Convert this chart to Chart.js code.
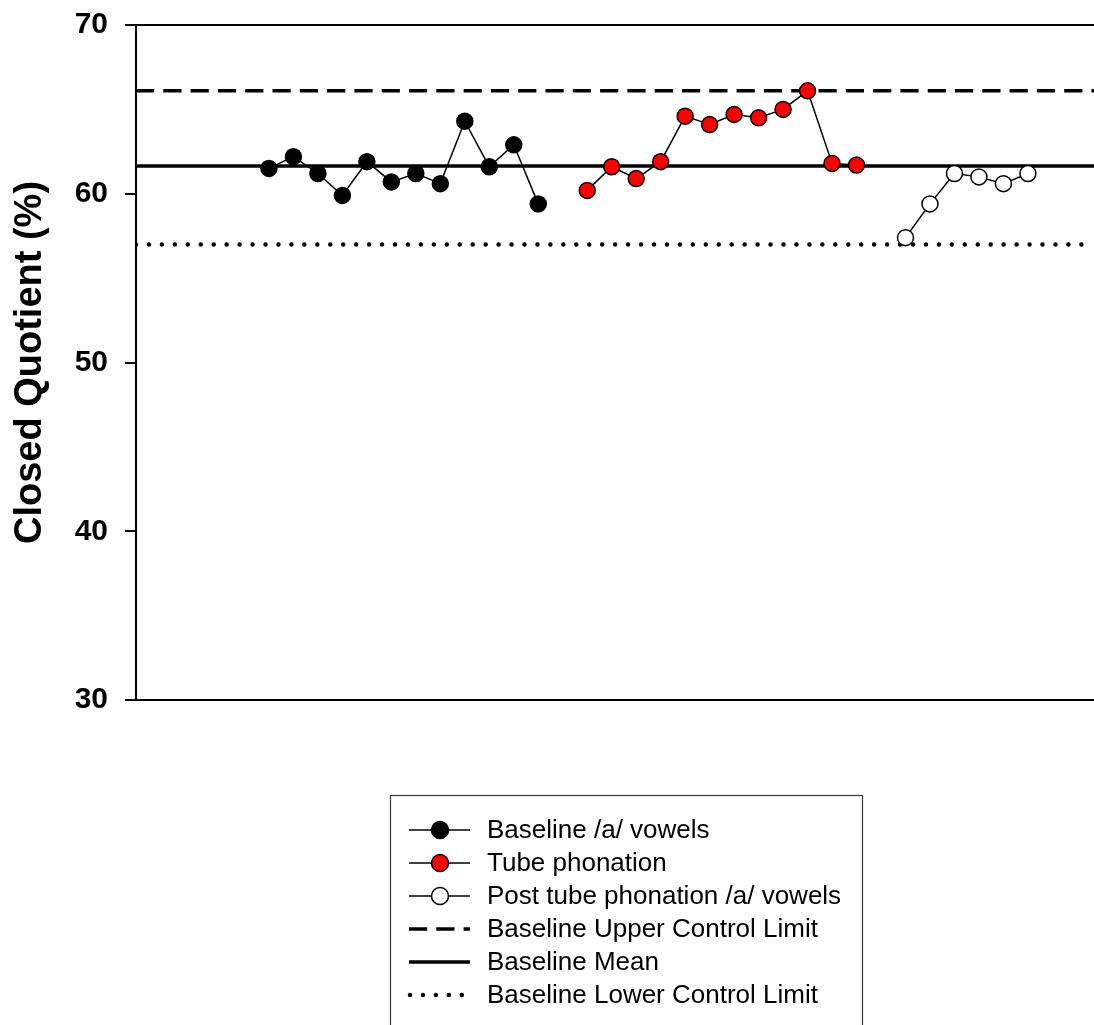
<!DOCTYPE html>
<html>
<head>
<meta charset="utf-8">
<script src="https://cdn.jsdelivr.net/npm/chart.js@4.4.1/dist/chart.umd.min.js"></script>
<style>
  html, body { margin: 0; padding: 0; background: #ffffff; }
  #wrap { position: relative; width: 1094px; height: 1025px; }
  canvas { display: block; }
</style>
</head>
<body>
<div id="wrap"><canvas id="cq" width="1094" height="1025"></canvas></div>
<script>
// Closed quotient (%) per session, three phases
const baselineSessions = [1, 2, 3, 4, 5, 6, 7, 8, 9, 10, 11, 12];
const baselineCQ = [61.5, 62.2, 61.2, 59.9, 61.9, 60.7, 61.2, 60.6, 64.3, 61.6, 62.9, 59.4];

const tubeSessions = [14, 15, 16, 17, 18, 19, 20, 21, 22, 23, 24, 25];
const tubeCQ = [60.2, 61.6, 60.9, 61.9, 64.6, 64.1, 64.7, 64.5, 65.0, 66.1, 61.8, 61.7];

const postSessions = [27, 28, 29, 30, 31, 32];
const postCQ = [57.4, 59.4, 61.2, 61.0, 60.6, 61.2];

// Control limits from the baseline phase
const upperControlLimit = 66.1;
const baselineMean = 61.65;
const lowerControlLimit = 57.0;

const yTicks = [30, 40, 50, 60, 70];

const seriesLabels = [
  'Baseline /a/ vowels',
  'Tube phonation',
  'Post tube phonation /a/ vowels',
  'Baseline Upper Control Limit',
  'Baseline Mean',
  'Baseline Lower Control Limit'
];

const FONT = "'Liberation Sans', Arial, Helvetica, sans-serif";
const X_MIN = -4.43, X_MAX = 34.7;

const toPoints = (xs, ys) => xs.map((x, i) => ({ x: x, y: ys[i] }));
const flatLine = (v) => [{ x: X_MIN, y: v }, { x: X_MAX, y: v }];

const phaseStyle = (fill) => ({
  borderColor: '#000000',
  borderWidth: 1.5,
  pointRadius: 8,
  pointBackgroundColor: fill,
  pointBorderColor: '#000000',
  pointBorderWidth: 1.5,
  showLine: true,
  tension: 0,
  order: 0
});

// Draws the boxed key beneath the plot from the datasets' own styles
const boxedLegend = {
  id: 'boxedLegend',
  afterDraw(chart) {
    const ctx = chart.ctx;
    const box = { left: 390.5, top: 795.5, width: 472, height: 260 };
    const rowTop = 830, rowStep = 33;
    const symLeft = 409, symRight = 470, symMid = 440, textX = 487;
    ctx.save();
    ctx.strokeStyle = '#3a3a3a';
    ctx.lineWidth = 1.2;
    ctx.strokeRect(box.left, box.top, box.width, box.height);
    chart.data.datasets.forEach((ds, i) => {
      const y = rowTop + i * rowStep;
      ctx.save();
      ctx.strokeStyle = ds.borderColor;
      ctx.lineWidth = ds.borderWidth;
      ctx.lineCap = ds.borderCapStyle || 'butt';
      ctx.setLineDash(ds.borderDash || []);
      ctx.beginPath();
      if (ds.borderDash && ds.borderDash[0] === 0) {
        ctx.moveTo(symLeft + 1, y);
        ctx.lineTo(symRight - 5, y);
      } else {
        ctx.moveTo(symLeft, y);
        ctx.lineTo(symRight, y);
      }
      ctx.stroke();
      ctx.setLineDash([]);
      if (ds.pointRadius > 0) {
        ctx.beginPath();
        ctx.arc(symMid, y, ds.pointRadius + 0.5, 0, Math.PI * 2);
        ctx.fillStyle = ds.pointBackgroundColor;
        ctx.fill();
        ctx.lineWidth = ds.pointBorderWidth;
        ctx.strokeStyle = ds.pointBorderColor;
        ctx.stroke();
      }
      ctx.restore();
      ctx.fillStyle = '#000000';
      ctx.font = '26px ' + FONT;
      ctx.textAlign = 'left';
      ctx.textBaseline = 'middle';
      ctx.fillText(ds.label, textX, y + 1);
    });
    ctx.restore();
  }
};

new Chart(document.getElementById('cq'), {
  type: 'scatter',
  data: {
    datasets: [
      Object.assign({ label: seriesLabels[0], data: toPoints(baselineSessions, baselineCQ) }, phaseStyle('#000000')),
      Object.assign({ label: seriesLabels[1], data: toPoints(tubeSessions, tubeCQ) }, phaseStyle('#ff0000')),
      Object.assign({ label: seriesLabels[2], data: toPoints(postSessions, postCQ) }, phaseStyle('#ffffff')),
      {
        label: seriesLabels[3], data: flatLine(upperControlLimit), showLine: true,
        borderColor: '#000000', borderWidth: 3.5, borderDash: [18.2, 9.1],
        pointRadius: 0, order: 1
      },
      {
        label: seriesLabels[4], data: flatLine(baselineMean), showLine: true,
        borderColor: '#000000', borderWidth: 3.5,
        pointRadius: 0, order: 1
      },
      {
        label: seriesLabels[5], data: flatLine(lowerControlLimit), showLine: true,
        borderColor: '#000000', borderWidth: 4.5, borderDash: [0, 12.95], borderCapStyle: 'round',
        pointRadius: 0, order: 1
      }
    ]
  },
  options: {
    responsive: false,
    animation: false,
    devicePixelRatio: 1,
    layout: { padding: 0, autoPadding: false },
    plugins: { legend: { display: false }, tooltip: { enabled: false } },
    scales: {
      x: {
        type: 'linear', position: 'bottom', min: X_MIN, max: X_MAX,
        ticks: { display: false }, grid: { display: false },
        border: { display: true, color: '#000000', width: 2 },
        afterFit(scale) { scale.height = 325; }
      },
      xTop: {
        type: 'linear', position: 'top', min: X_MIN, max: X_MAX,
        ticks: { display: false }, grid: { display: false },
        border: { display: true, color: '#000000', width: 2 },
        afterFit(scale) { scale.height = 25; }
      },
      y: {
        type: 'linear', position: 'left', min: 30, max: 70,
        afterBuildTicks(scale) { scale.ticks = yTicks.map(v => ({ value: v })); },
        ticks: {
          color: '#000000', padding: 17,
          font: { family: FONT, size: 30, weight: 'bold' }
        },
        grid: { drawOnChartArea: false, drawTicks: true, tickLength: 11, color: '#000000', lineWidth: 2 },
        border: { display: true, color: '#000000', width: 2 },
        title: {
          display: true, text: 'Closed Quotient (%)', color: '#000000',
          font: { family: FONT, size: 38, weight: 'bold' },
          padding: { top: 8, bottom: 0 }
        },
        afterFit(scale) {
          scale.width = 136;
          scale.paddingTop = 0;
          scale.paddingBottom = 0;
        }
      }
    }
  },
  plugins: [boxedLegend]
});
</script>
</body>
</html>
